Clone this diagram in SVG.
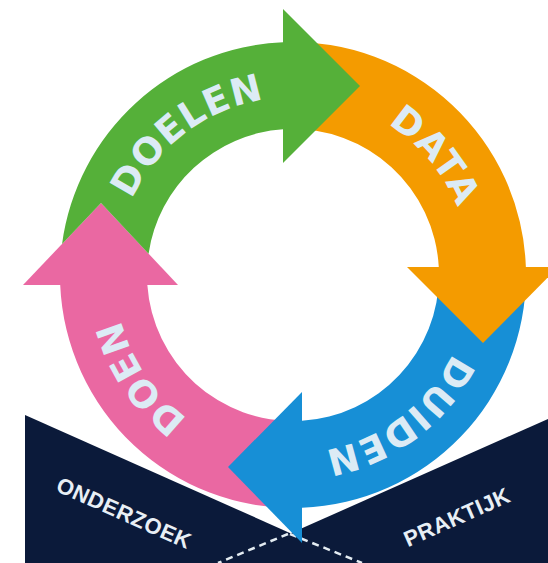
<svg xmlns="http://www.w3.org/2000/svg" width="548" height="563" viewBox="0 0 548 563">
<style>
.navy{fill:#0b1a3a}
.dash{fill:none;stroke:#e4ecf2;stroke-width:2.5;stroke-dasharray:7 5}
.green{fill:#55b039}
.orange{fill:#f49b00}
.blue{fill:#178fd6}
.pink{fill:#ea68a2}
.lbl{font-family:"DejaVu Sans",Verdana,sans-serif;font-weight:bold;font-size:37px;letter-spacing:1px;fill:#dcebf5}
.page{font-family:"Liberation Sans",Arial,sans-serif;font-weight:bold;font-size:22px;letter-spacing:0.5px;fill:#e8eff5}
</style>
<defs>
<path id="p-doelen" d="M122.78,327.04 A178,178 0 0 1 389.95,125.72"/>
<path id="p-data" d="M232.12,107.74 A178,178 0 0 1 447.15,364"/>
<path id="p-duiden" d="M463.22,222.96 A178,178 0 0 1 196.05,424.28"/>
<path id="p-doen" d="M336.06,447.71 A178,178 0 0 1 148.99,170.37"/>
</defs>
<rect width="548" height="563" fill="#ffffff"/>
<g id="onderzoek">
<polygon class="navy" points="25,415 291,533.4 291,563 25,563"/>
<text class="page" x="121" y="520" text-anchor="middle" transform="rotate(24 121 520)">ONDERZOEK</text>
</g>
<g id="praktijk">
<polygon class="navy" points="289,534 548,419 548,563 289,563"/>
<text class="page" x="460" y="524" text-anchor="middle" transform="rotate(-24 460 524)">PRAKTIJK</text>
</g>
<g id="connectors">
<line class="dash" x1="288" y1="534" x2="218" y2="563"/>
<line class="dash" x1="290" y1="534" x2="362" y2="563"/>
</g>
<g id="doen">
<path class="pink" d="M298,507.95 A233,233 0 0 1 60.21,285 L147.34,285 A146,146 0 0 0 298,420.91 Z"/>
<polygon class="pink" points="23,285 178,285 101,203"/>
<text class="lbl"><textPath href="#p-doen" startOffset="50%" text-anchor="middle">DOEN</textPath></text>
</g>
<g id="duiden">
<path class="blue" d="M526,275 A233,233 0 0 1 302,507.83 L302,420.72 A146,146 0 0 0 439,275 Z"/>
<polygon class="blue" points="302,392 302,543 228,467"/>
<text class="lbl"><textPath href="#p-duiden" startOffset="50%" text-anchor="middle">DUIDEN</textPath></text>
</g>
<g id="data">
<path class="orange" d="M284.87,42.14 A233,233 0 0 1 525.86,267 L438.78,267 A146,146 0 0 0 287.90,129.09 Z"/>
<polygon class="orange" points="407,267 558,267 483,343"/>
<text class="lbl"><textPath href="#p-data" startOffset="50%" text-anchor="middle">DATA</textPath></text>
</g>
<g id="doelen">
<path class="green" d="M62.08,243.91 A233,233 0 0 1 283,42.21 L283,129.34 A146,146 0 0 0 148.57,253.66 L101,203 Z"/>
<polygon class="green" points="283,9 360,86 283,163"/>
<text class="lbl"><textPath href="#p-doelen" startOffset="50%" text-anchor="middle">DOELEN</textPath></text>
</g>
</svg>
